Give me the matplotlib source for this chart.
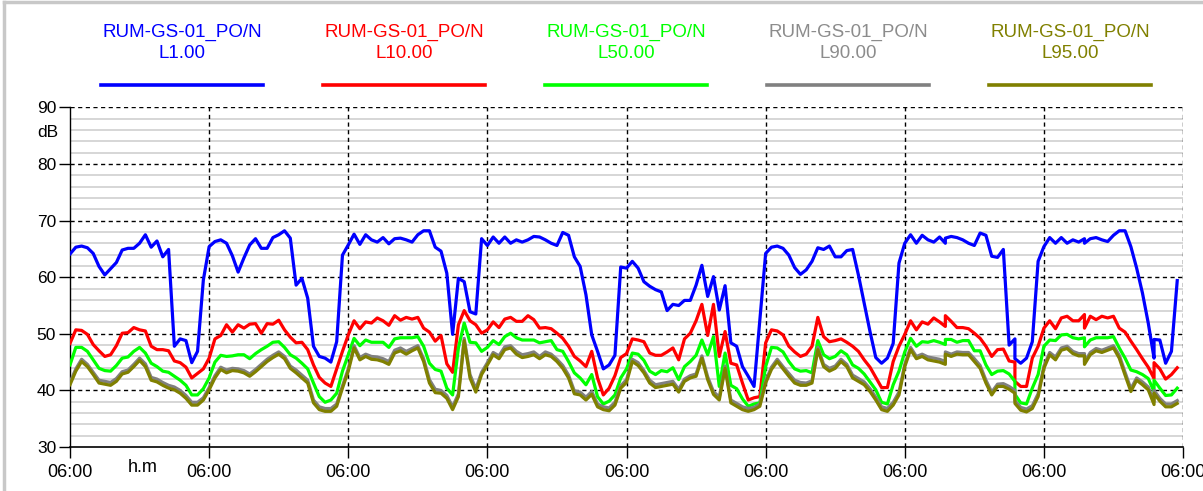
import numpy as np
import matplotlib
matplotlib.use("Agg")
import matplotlib.pyplot as plt
from matplotlib.lines import Line2D

plt.rcParams['font.family'] = ['Liberation Sans', 'DejaVu Sans']

# hourly levels, 8 days starting 06:00; four hours carry two readings (step in the record)
split_hours = [151, 163, 175, 187]

l1 = [64.1, 65.3, 65.5, 65.2, 64.2, 61.9, 60.4, 61.5, 62.6, 64.8, 65.1, 65.1, 66.0, 67.5, 65.3, 66.4, 63.6, 64.9, 47.8, 49.1, 48.8, 44.9, 46.9, 59.5,
      65.4, 66.3, 66.6, 66.0, 63.8, 60.9, 63.4, 65.7,
      66.8, 65.1, 65.1, 67.0, 67.5, 68.2, 66.9, 58.6, 59.8, 56.3, 47.8, 46.0, 45.7, 45.0, 48.6, 63.9,
      65.7, 67.6, 65.8, 67.5, 66.6, 66.2, 67.0, 65.9, 66.8, 66.9, 66.6, 66.2, 67.5, 68.2, 68.2, 65.3,
      64.6, 60.7, 49.9, 59.8, 59.2, 53.9, 53.5, 66.8,
      65.6, 67.1, 66.0, 67.1, 66.0, 66.6, 66.2, 66.6, 67.2, 67.1, 66.6, 66.0, 65.6, 67.9, 67.4, 63.6, 61.9, 56.9, 49.8, 46.9, 43.8, 44.5, 46.2, 61.8,
      61.6, 62.8, 61.6, 59.2, 58.4, 57.8, 57.4, 54.1, 55.2, 55.0, 55.9, 55.9, 58.6, 62.1, 56.6, 60.1, 54.2, 58.5, 48.4, 47.8, 44.2, 42.5, 40.7, 52.5,
      64.2, 65.3, 65.5, 65.1, 63.9, 61.7, 60.5, 61.3,
      62.8, 65.2, 64.9, 65.5, 63.6, 63.6, 64.7, 64.9, 60.4, 55.4, 50.4, 45.8, 44.8, 45.7, 48.3, 62.5, 66.0, 67.5, 66.0, 67.4, 66.6, 66.2, 67.1,
      66.0, 66.9,
      67.2, 67.0, 66.6, 66.0, 65.6, 67.8, 67.4, 63.7,
      63.5, 64.9, 48.0,
      49.1, 45.6,
      44.8, 45.7, 48.6, 62.8, 65.4, 67.0, 66.0, 67.0, 66.0, 66.6, 66.2,
      66.8, 66.0,
      66.8, 67.0, 66.6, 66.3, 67.4, 68.2, 68.2, 65.4, 61.6, 57.2, 51.9,
      45.7, 49.0,
      48.9, 44.8, 46.9, 59.4]

l10 = [48.3, 50.7, 50.6, 49.9, 48.1, 47.0, 46.0, 46.3, 47.9, 50.1, 50.2, 51.1, 50.7, 50.5, 47.8, 47.2, 47.2, 47.0, 45.2, 44.9, 44.1, 42.2, 43.0, 43.8,
       45.7, 49.1, 49.7, 51.6, 50.3, 51.6, 51.0, 51.7,
       51.8, 50.1, 51.8, 51.7, 52.4, 50.7, 49.4, 48.4, 48.5, 47.2, 44.5, 42.3, 41.3, 40.7, 43.8, 46.9,
       49.8, 52.3, 50.9, 52.1, 51.9, 52.8, 52.3, 51.5, 53.2, 52.4, 52.9, 52.6, 52.9, 51.0, 50.3, 48.7,
       49.7, 44.7, 43.2, 51.6, 54.1, 52.3, 51.6, 50.1,
       50.7, 52.1, 51.1, 52.6, 52.9, 52.2, 52.2, 53.2, 52.5, 51.0, 51.1, 50.9, 50.1, 49.2, 47.8, 46.0, 45.2, 44.2, 46.9, 42.2, 39.2, 40.4, 42.6, 45.8,
       46.5, 49.1, 48.9, 48.6, 46.6, 46.2, 46.2, 46.8, 47.5, 45.4, 49.1, 50.1, 52.3, 55.2, 49.7, 55.2, 46.0, 50.4, 44.8, 44.5, 41.3, 38.3, 38.7, 38.9,
       48.4, 50.7, 50.5, 49.8, 47.8, 46.8, 46.0, 46.4,
       47.8, 52.9, 49.5, 48.6, 48.8, 49.1, 48.5, 47.8, 46.9, 45.4, 44.1, 42.3, 40.5, 40.5, 45.1, 47.8, 49.9, 52.3, 50.7, 52.1, 51.7, 52.8, 52.1,
       51.3, 53.2,
       52.2, 51.1, 51.1, 50.9, 50.1, 49.2, 47.8, 46.0,
       47.2, 47.3, 45.2,
       45.0, 41.6,
       40.7, 40.7, 45.7, 47.8, 51.0, 52.3, 50.9, 52.8, 53.1, 52.3, 52.3,
       53.4, 51.0,
       53.1, 52.5, 53.1, 52.8, 53.1, 51.0, 50.3, 48.7, 47.2, 45.6, 44.1,
       42.1, 44.9,
       43.8, 42.0, 42.8, 44.0]

l50 = [44.5, 47.6, 47.6, 46.9, 45.4, 43.9, 43.5, 43.4, 44.4, 45.7, 45.9, 46.9, 47.6, 46.6, 44.8, 44.2, 43.4, 43.2, 42.5, 41.8, 40.9, 39.2, 39.2, 40.3,
       42.2, 45.0, 46.2, 46.0, 46.1, 46.3, 46.3, 45.6,
       46.5, 47.2, 47.8, 48.5, 48.6, 47.6, 46.3, 45.7, 44.8, 43.8, 41.3, 38.9, 37.9, 38.3, 39.5, 43.4,
       46.3, 49.2, 47.9, 48.9, 48.5, 48.5, 48.5, 47.6, 49.1, 49.3, 49.3, 49.3, 49.5, 47.8, 44.8, 43.7,
       43.4, 40.4, 39.2, 47.5, 51.9, 48.5, 48.4, 46.9,
       47.6, 48.8, 48.1, 49.5, 50.1, 49.3, 48.9, 48.9, 48.9, 48.4, 48.6, 48.8, 47.2, 46.9, 45.1, 43.1, 42.2, 41.0, 42.8, 38.9, 37.6, 38.1, 39.2, 42.2,
       43.8, 46.6, 46.4, 45.3, 43.4, 42.8, 43.5, 43.3, 44.0, 41.9, 44.2, 45.1, 46.2, 48.9, 46.3, 49.5, 40.7, 46.6, 40.9, 40.3, 38.5, 37.2, 37.6, 37.8,
       44.2, 47.6, 47.5, 46.8, 45.1, 43.8, 43.4, 43.5,
       43.1, 48.8, 46.3, 45.6, 46.0, 47.0, 46.3, 44.5, 43.9, 42.9, 41.5, 40.1, 37.9, 37.6, 41.0, 43.4, 46.8, 49.2, 47.8, 48.6, 48.5, 48.8, 48.5,
       48.1, 49.0,
       49.0, 48.5, 48.8, 48.8, 47.0, 47.0, 44.5, 42.8,
       43.4, 43.5, 42.9,
       41.6, 39.3,
       37.8, 37.6, 40.4, 42.8, 47.8, 48.9, 48.8, 49.8, 49.9, 49.3, 49.1,
       49.3, 47.7,
       48.9, 49.3, 49.3, 49.3, 49.5, 47.5, 45.7, 43.6, 43.3, 42.8, 42.1,
       39.8, 41.8,
       40.4, 39.1, 39.2, 40.4]

l90 = [41.4, 43.8, 45.5, 44.6, 43.2, 41.8, 41.6, 41.4, 42.1, 43.3, 43.6, 44.6, 45.7, 44.7, 42.3, 42.0, 41.4, 40.9, 40.6, 40.0, 39.1, 37.9, 37.9, 38.7,
       40.5, 42.6, 44.1, 43.6, 43.9, 43.8, 43.5, 42.9,
       43.7, 44.6, 45.5, 46.2, 46.8, 46.0, 44.3, 43.6, 42.7, 41.8, 38.3, 37.1, 36.8, 36.8, 37.6, 40.8,
       43.8, 47.9, 45.8, 46.4, 46.0, 45.9, 45.6, 45.1, 47.1, 47.5, 46.9, 47.4, 47.9, 45.6, 41.9, 40.2,
       40.0, 39.1, 37.1, 39.4, 49.2, 42.8, 40.3, 43.2,
       44.9, 46.7, 46.1, 47.7, 47.9, 46.9, 46.3, 46.5, 46.8, 46.0, 46.8, 46.4, 45.5, 44.4, 42.7, 39.9, 39.7, 38.8, 39.8, 37.6, 37.1, 36.9, 37.9, 40.8,
       41.9, 45.5, 44.9, 43.5, 41.8, 41.0, 41.2, 41.4, 41.6, 40.2, 42.0, 42.6, 42.9, 46.1, 42.4, 39.8, 38.8, 44.3, 38.3, 37.7, 37.1, 36.8, 37.0, 37.6,
       41.7, 44.1, 45.5, 44.2, 43.0, 41.8, 41.4, 41.3,
       41.7, 47.6, 44.6, 43.9, 44.3, 45.5, 44.6, 42.7, 42.1, 41.5, 40.3, 38.8, 37.1, 36.8, 37.9, 39.7, 44.6, 47.6, 46.0, 46.4, 45.9, 45.7, 45.5,
       45.1, 46.8,
       46.4, 46.8, 46.7, 46.7, 45.6, 44.4, 41.8, 39.7,
       41.1, 41.2, 40.7,
       40.0, 38.2,
       37.0, 36.7, 37.3, 39.4, 44.3, 46.7, 45.9, 47.5, 47.8, 46.9, 46.5,
       46.5, 45.0,
       46.7, 47.4, 47.1, 47.5, 47.9, 46.2, 43.2, 40.3, 42.2, 41.5, 40.6,
       38.0, 40.0,
       38.6, 37.6, 37.6, 38.2]

l95 = [41.0, 43.4, 45.1, 44.2, 42.8, 41.3, 41.1, 40.9, 41.6, 42.9, 43.2, 44.2, 45.3, 44.2, 41.8, 41.5, 40.9, 40.4, 40.1, 39.5, 38.6, 37.4, 37.4, 38.3,
       40.1, 42.2, 43.7, 43.1, 43.5, 43.4, 43.1, 42.5,
       43.3, 44.2, 45.1, 45.8, 46.4, 45.6, 43.9, 43.1, 42.2, 41.3, 37.8, 36.6, 36.3, 36.3, 37.2, 40.4,
       43.4, 47.5, 45.4, 46.0, 45.5, 45.4, 45.1, 44.6, 46.6, 47.0, 46.4, 47.0, 47.5, 45.1, 41.3, 39.6,
       39.5, 38.6, 36.6, 38.9, 48.8, 42.2, 39.7, 42.8,
       44.5, 46.3, 45.6, 47.2, 47.5, 46.4, 45.8, 46.0, 46.3, 45.6, 46.3, 46.0, 45.1, 43.9, 42.2, 39.4, 39.2, 38.3, 39.3, 37.1, 36.6, 36.4, 37.4, 40.4,
       41.4, 45.1, 44.4, 43.1, 41.3, 40.5, 40.7, 40.9, 41.1, 39.7, 41.6, 42.2, 42.5, 45.7, 41.9, 39.3, 38.3, 43.9, 37.8, 37.2, 36.6, 36.3, 36.6, 37.2,
       41.3, 43.7, 45.1, 43.8, 42.5, 41.3, 40.9, 40.9,
       41.3, 47.2, 44.2, 43.4, 43.9, 45.1, 44.2, 42.2, 41.6, 41.0, 39.8, 38.3, 36.6, 36.3, 37.4, 39.2, 44.2, 47.2, 45.6, 46.0, 45.4, 45.2, 45.0,
       44.6, 46.4,
       46.0, 46.4, 46.3, 46.3, 45.1, 43.9, 41.3, 39.2,
       40.7, 40.7, 40.2,
       39.5, 37.7,
       36.5, 36.2, 36.8, 38.9, 43.9, 46.3, 45.4, 47.1, 47.4, 46.5, 46.1,
       46.1, 44.6,
       46.3, 47.0, 46.7, 47.1, 47.5, 45.7, 42.7, 39.8, 41.8, 41.0, 40.1,
       37.5, 39.5,
       38.1, 37.1, 37.1, 37.7]

names = ["RUM-GS-01_PO/N\nL1.00", "RUM-GS-01_PO/N\nL10.00", "RUM-GS-01_PO/N\nL50.00",
         "RUM-GS-01_PO/N\nL90.00", "RUM-GS-01_PO/N\nL95.00"]
colors = ["#0000ff", "#ff0000", "#00ff00", "#808080", "#808000"]
text_colors = ["#0000ff", "#ff0000", "#00ff00", "#8c8c8c", "#808000"]

hours = np.arange(192.0)
hours = np.insert(hours, [s + 1 for s in split_hours], split_hours)

fig = plt.figure(figsize=(12.03, 4.91), dpi=100)
ax = fig.add_axes([0.0582, 0.0896, 0.9252, 0.6917])

# light 2 dB grid
for v in range(30, 92, 2):
    if v % 10:
        ax.axhline(v, color="#d3d3d3", lw=1.3, zorder=0)
for v in range(40, 100, 10):
    ax.axhline(v, color="black", lw=1.0, ls=(0, (3, 2.5)), zorder=1)
for d in range(24, 200, 24):
    ax.axvline(d, color="black", lw=1.0, ls=(0, (3, 2.5)), zorder=1)

for vals, c in zip([l1, l10, l50, l90, l95], colors):
    ax.plot(hours, vals, color=c, lw=2.3, zorder=3)

ax.set_xlim(0, 192)
ax.set_ylim(30, 90)
ax.set_xticks(range(0, 193, 24))
ax.set_xticklabels(["06:00"] * 9)
ax.set_yticks(range(30, 91, 10))
ax.tick_params(axis="both", direction="out", length=8, width=1, labelsize=12.5, pad=2)
ax.tick_params(axis="x", pad=4)
for lab in ax.get_xticklabels():
    lab.set_fontsize(13)
ax.spines["top"].set_visible(False)
ax.spines["right"].set_visible(False)
ax.spines["left"].set_linewidth(1.0)
ax.spines["bottom"].set_linewidth(1.2)

ax.text(12.5, -0.036, "h.m", transform=ax.get_xaxis_transform(), ha="center", va="top", fontsize=13)
ax.text(-0.02, 85.5, "dB", transform=ax.get_yaxis_transform(), ha="center", va="center", fontsize=12.5)

# legend across the top
for i, (nm, c, tc) in enumerate(zip(names, colors, text_colors)):
    cx = (182 + 222 * i) / 1203
    fig.text(cx, 1 - 42.5 / 491, nm, color=tc, ha="center", va="center", fontsize=13.5, linespacing=1.3)
    fig.add_artist(Line2D([cx - 81 / 1203, cx + 81 / 1203], [1 - 85 / 491] * 2, color=c, lw=2.6,
                          transform=fig.transFigure))

# grey frame
fig.add_artist(Line2D([0.003, 0.003], [0, 0.995], color="#c8c8c8", lw=2.5, transform=fig.transFigure))
fig.add_artist(Line2D([0.003, 1.0], [0.995, 0.995], color="#c8c8c8", lw=2.5, transform=fig.transFigure))

fig.savefig("out.png", dpi=100)
